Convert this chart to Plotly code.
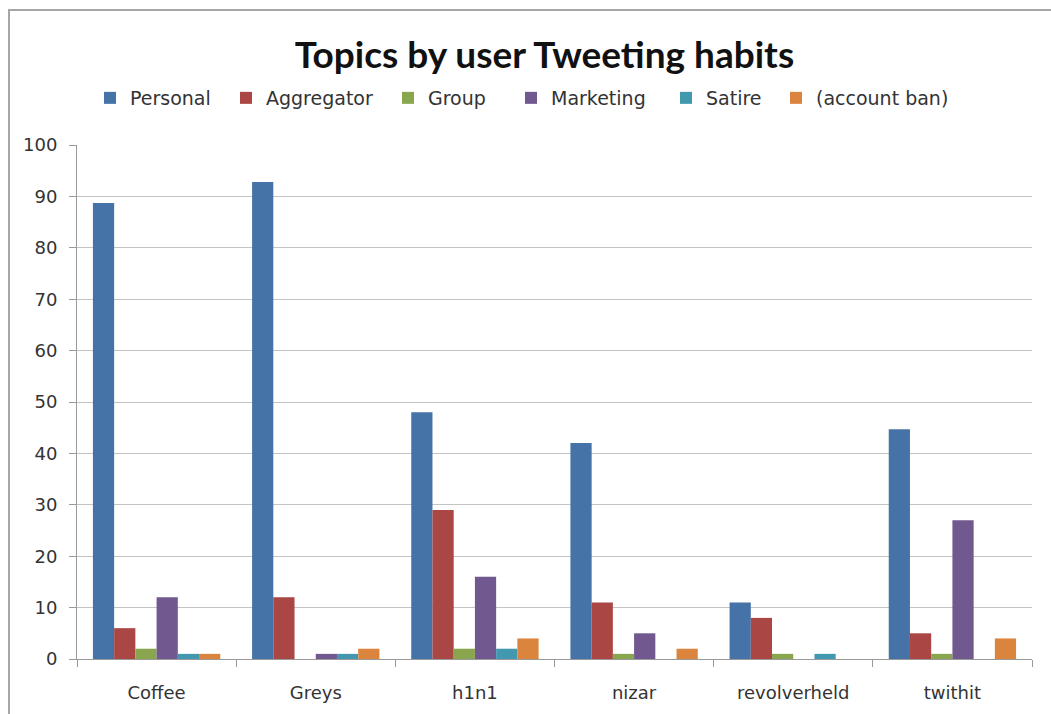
import plotly.graph_objects as go

categories = ["Coffee", "Greys", "h1n1", "nizar", "revolverheld", "twithit"]
personal = [88.7, 92.8, 48, 42, 11, 44.7]
aggregator = [6, 12, 29, 11, 8, 5]
group = [2, 0, 2, 1, 1, 1]
marketing = [12, 1, 16, 5, 0, 27]
satire = [1, 1, 2, 0, 1, 0]
account_ban = [1, 2, 4, 2, 0, 4]

series = [
    ("Personal", personal, "#4572A7"),
    ("Aggregator", aggregator, "#AA4643"),
    ("Group", group, "#89A54E"),
    ("Marketing", marketing, "#71588F"),
    ("Satire", satire, "#4198AF"),
    ("(account ban)", account_ban, "#DB843D"),
]

W, H = 1051, 714
ml, mr, mt, mb = 77, 19, 145, 55
pw, ph = W - ml - mr, H - mt - mb

def px(xp):
    return (xp - ml) / pw

def py(yp):
    return (H - mb - yp) / ph

# legend text start positions (pixels) in the reference
legend_text_x = [127, 263, 425, 548, 703, 813]

fig = go.Figure()
legend_layouts = {}
for i, (name, vals, col) in enumerate(series):
    lname = "legend" if i == 0 else f"legend{i + 1}"
    fig.add_trace(go.Bar(x=categories, y=vals, name=name, legend=lname,
                         marker=dict(color=col, line=dict(width=0))))
    legend_layouts[lname] = dict(
        orientation="h", x=px(legend_text_x[i] - 37), xanchor="left",
        y=py(98), yanchor="middle", bgcolor="rgba(0,0,0,0)",
        font=dict(family="DejaVu Sans", size=19, color="#333333"),
        itemwidth=30)

fig.update_layout(
    width=W, height=H,
    margin=dict(l=ml, r=mr, t=mt, b=mb),
    paper_bgcolor="white", plot_bgcolor="white",
    barmode="group", bargap=0.2, bargroupgap=0,
    title=dict(text="<b>Topics by user Tweeting habits</b>",
               font=dict(family="Lato", size=37, color="#111111"),
               x=0.5 * (292 + 797) / W, xanchor="center",
               y=1 - 55 / H, yanchor="middle"),
    showlegend=True,
    font=dict(family="DejaVu Sans", size=18, color="#333333"),
    shapes=[dict(type="rect", xref="paper", yref="paper",
                 x0=px(9), x1=px(1070), y0=py(10), y1=py(730),
                 line=dict(color="#a6a6a6", width=2), layer="below")],
    **legend_layouts,
)

fig.update_yaxes(range=[0, 100], dtick=10, showgrid=True, gridcolor="#c4c4c4",
                 gridwidth=1, showline=True, linecolor="#9a9a9a", linewidth=1,
                 ticks="outside", ticklen=7, tickcolor="#9a9a9a",
                 ticklabelstandoff=8, zeroline=False,
                 tickfont=dict(family="DejaVu Sans", size=18, color="#333333"))
fig.update_xaxes(showline=True, linecolor="#9a9a9a", linewidth=1,
                 ticks="outside", ticklen=7, tickcolor="#9a9a9a",
                 tickson="boundaries", showgrid=False, ticklabelstandoff=17,
                 tickfont=dict(family="DejaVu Sans", size=18, color="#333333"))

fig.write_html("out.html")
